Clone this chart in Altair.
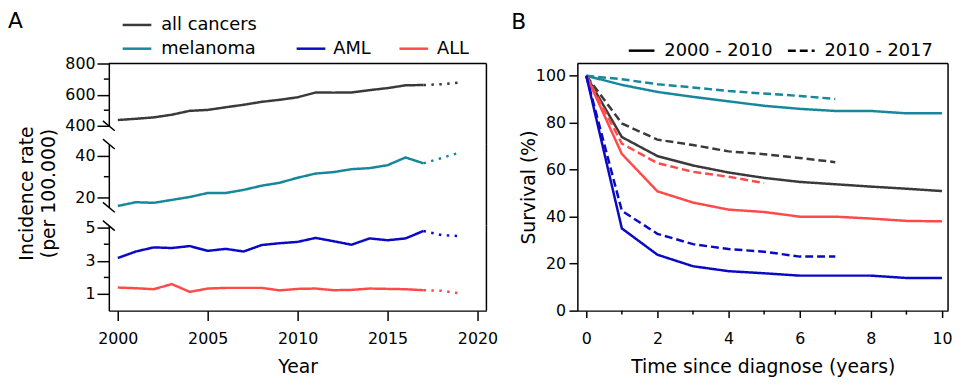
import altair as alt
import pandas as pd

# ---------------- Panel A: incidence rates ----------------
years = list(range(2000, 2018))
proj_years = [2017, 2018, 2019]
inc_all = [437, 445, 454, 471, 496, 502, 519, 535, 554, 567, 583, 614, 613, 614, 629, 642, 660, 662]
proj_all = [662, 667, 677]
inc_mel = [16.0, 17.8, 17.5, 18.9, 20.3, 22.2, 22.2, 23.7, 25.7, 27.1, 29.5, 31.5, 32.2, 33.6, 34.1, 35.5, 39.2, 36.4]
proj_mel = [36.4, 38.9, 41.5]
inc_aml = [3.17, 3.56, 3.81, 3.77, 3.89, 3.60, 3.72, 3.56, 3.95, 4.06, 4.14, 4.38, 4.18, 3.97, 4.35, 4.24, 4.35, 4.80]
proj_aml = [4.80, 4.55, 4.49]
inc_lymph = [1.39, 1.35, 1.29, 1.60, 1.13, 1.33, 1.37, 1.37, 1.37, 1.22, 1.31, 1.33, 1.23, 1.25, 1.33, 1.31, 1.29, 1.23]
proj_lymph = [1.23, 1.20, 1.04]

cancers = ["all cancers", "melanoma", "AML", "ALL"]
colors = ["#3a3a3a", "#17879b", "#0a0ac4", "#ff4a4a"]

# ---------------- Panel B: survival ----------------
t_early = list(range(0, 11))
t_late = list(range(0, 8))
t_late_lymph = list(range(0, 6))
surv_all_early = [100, 73.9, 65.8, 61.8, 58.8, 56.5, 54.8, 53.8, 52.8, 51.9, 50.9]
surv_all_late = [100, 79.7, 72.8, 70.5, 67.8, 66.6, 65.0, 63.2]
surv_mel_early = [100, 96.1, 93.1, 91.0, 89.1, 87.2, 85.9, 85.0, 85.0, 84.0, 84.0]
surv_mel_late = [100, 98.5, 96.4, 95.0, 93.5, 92.4, 91.4, 90.1]
surv_aml_early = [100, 35.0, 23.8, 18.9, 16.8, 15.9, 14.9, 14.9, 14.9, 13.9, 13.9]
surv_aml_late = [100, 42.5, 32.7, 28.3, 26.2, 25.1, 23.0, 23.0]
surv_lymph_early = [100, 66.7, 50.8, 46.0, 43.0, 42.0, 40.0, 40.0, 39.2, 38.2, 38.0]
surv_lymph_late = [100, 71.1, 62.8, 59.1, 57.0, 54.3]
periods = ["2000 - 2010", "2010 - 2017"]
y_title_a = ["Incidence rate", "(per 100.000)"]

FONT = "DejaVu Sans"
one = pd.DataFrame({"k": [0]})
color_scale = alt.Scale(domain=cancers, range=colors)


def inc_df(name, obs, proj):
    rows = [{"year": y, "value": v, "cancer": name, "seg": "observed"} for y, v in zip(years, obs)]
    rows += [{"year": y, "value": v, "cancer": name, "seg": "projected"} for y, v in zip(proj_years, proj)]
    return pd.DataFrame(rows)


def rule(color="black", width=1.5, dash=None, **enc):
    kw = dict(color=color, strokeWidth=width)
    if dash is not None:
        kw["strokeDash"] = dash
    return alt.Chart(one).mark_rule(**kw).encode(**{k: alt.value(v) for k, v in enc.items()})


def label(txt, x, y, size=18, baseline="middle", align="left", angle=0):
    kw = dict(align=align, baseline=baseline, fontSize=size, font=FONT, color="black")
    if angle:
        kw["angle"] = angle
    return alt.Chart(one).mark_text(**kw).encode(x=alt.value(x), y=alt.value(y), text=alt.value(txt))


W_A = 382
GAP = 18.5


def sub_panel(df, domain, h, major, minor, bottom=False, top=False, extra=None):
    if bottom:
        xaxis = alt.Axis(values=[2000, 2005, 2010, 2015, 2020], format="d", tickSize=10,
                         labelPadding=10, title="Year", titlePadding=12)
    else:
        xaxis = None
    xscale = alt.Scale(domain=[1999.5, 2020.5], nice=False, zero=False)
    yscale = alt.Scale(domain=domain, nice=False, zero=False)
    yaxis = alt.Axis(values=major, tickSize=12, labelPadding=2, title=None)
    lines = alt.Chart(df).mark_line(strokeWidth=2.5).encode(
        x=alt.X("year:Q", scale=xscale, axis=xaxis),
        y=alt.Y("value:Q", scale=yscale, axis=yaxis),
        color=alt.Color("cancer:N", scale=color_scale, legend=None),
        strokeDash=alt.StrokeDash("seg:N", scale=alt.Scale(domain=["observed", "projected"],
                                                           range=[[1, 0], [2.5, 5.5]]), legend=None),
    )
    ticks = alt.Chart(pd.DataFrame({"value": minor})).mark_rule(color="black", strokeWidth=1.5).encode(
        y=alt.Y("value:Q", scale=yscale, axis=yaxis), x=alt.value(-5), x2=alt.value(0))
    layers = [lines, ticks]
    # right frame border (continues through the gap below)
    layers.append(rule(x=W_A, y=0, y2=h + (0 if bottom else GAP)))
    if top:
        layers.append(rule(x=0, x2=W_A, y=0))
    # axis break marks
    if not top:
        layers.append(rule(x=-6, x2=6, y=-5, y2=5))
    if not bottom:
        layers.append(rule(x=-6, x2=6, y=h - 5, y2=h + 5))
    if extra:
        layers += extra
    return alt.layer(*layers).properties(width=W_A, height=h)


legend_A = [
    label("A", -102, -36, size=22, baseline="alphabetic"),
    rule(color=colors[0], width=2.5, x=14, x2=43, y=-39), label(cancers[0], 53, -39),
    rule(color=colors[1], width=2.5, x=14, x2=43, y=-15), label(cancers[1], 53, -15),
    rule(color=colors[2], width=2.5, x=190, x2=219, y=-15), label(cancers[2], 227, -15),
    rule(color=colors[3], width=2.5, x=294, x2=323, y=-15), label(cancers[3], 332, -15),
]
title_A = [
    label(y_title_a[0], -83, 50, size=19, align="center", angle=270),
    label(y_title_a[1], -60, 50, size=19, align="center", angle=270),
]

p_top = sub_panel(inc_df(cancers[0], inc_all, proj_all), [400, 800], 63, [400, 600, 800], [500, 700],
                  top=True, extra=legend_A)
p_mid = sub_panel(inc_df(cancers[1], inc_mel, proj_mel), [15.35, 45.6], 64, [20, 40], [30], extra=title_A)
p_bot = sub_panel(pd.concat([inc_df(cancers[2], inc_aml, proj_aml), inc_df(cancers[3], inc_lymph, proj_lymph)]),
                  [0, 5.12], 86, [1, 3, 5], [2, 4], bottom=True)

panel_a = alt.vconcat(p_top, p_mid, p_bot, spacing=GAP, bounds="flush").resolve_scale(
    x="independent", y="independent")

# ---------------- Panel B chart ----------------
W_B, H_B = 375, 250
rows = []
for name, tt, vals, per in [
    (cancers[1], t_early, surv_mel_early, periods[0]), (cancers[1], t_late, surv_mel_late, periods[1]),
    (cancers[0], t_early, surv_all_early, periods[0]), (cancers[0], t_late, surv_all_late, periods[1]),
    (cancers[3], t_early, surv_lymph_early, periods[0]), (cancers[3], t_late_lymph, surv_lymph_late, periods[1]),
    (cancers[2], t_early, surv_aml_early, periods[0]), (cancers[2], t_late, surv_aml_late, periods[1]),
]:
    rows += [{"time": t, "surv": v, "cancer": name, "period": per} for t, v in zip(tt, vals)]
dfB = pd.DataFrame(rows)

xB = alt.Scale(domain=[-0.25, 10.17], nice=False, zero=False)
yB = alt.Scale(domain=[0, 105.2], nice=False, zero=False)
xB_axis = alt.Axis(values=[0, 2, 4, 6, 8, 10], tickSize=7, labelPadding=13,
                   title="Time since diagnose (years)", titlePadding=12)
linesB = alt.Chart(dfB).mark_line(strokeWidth=2.5).encode(
    x=alt.X("time:Q", scale=xB, axis=xB_axis),
    y=alt.Y("surv:Q", scale=yB, axis=alt.Axis(values=[0, 20, 40, 60, 80, 100], tickSize=8.5, labelPadding=3.5,
                                              title="Survival (%)", titleX=-49, titleY=H_B / 2,
                                              titleAngle=270, titleAlign="center", titleBaseline="middle")),
    color=alt.Color("cancer:N", scale=color_scale, legend=None),
    strokeDash=alt.StrokeDash("period:N", scale=alt.Scale(domain=periods, range=[[1, 0], [8, 4]]), legend=None),
)
minorB = alt.Chart(pd.DataFrame({"time": [1, 3, 5, 7, 9]})).mark_rule(color="black", strokeWidth=1.5).encode(
    x=alt.X("time:Q", scale=xB, axis=xB_axis), y=alt.value(H_B), y2=alt.value(H_B + 4))
panel_b = alt.layer(
    linesB, minorB,
    rule(x=0, x2=W_B, y=0), rule(x=W_B, y=0, y2=H_B),
    label("B", -67, -35, size=22, baseline="alphabetic"),
    rule(width=2.5, x=52, x2=78, y=-13), label(periods[0], 88, -13),
    rule(width=2.5, dash=[8, 4], x=213, x2=240, y=-13), label(periods[1], 250, -13),
).properties(width=W_B, height=H_B)

chart = alt.hconcat(panel_a, panel_b, spacing=13).resolve_scale(
    x="independent", y="independent", strokeDash="independent"
).properties(
    padding={"left": 0, "top": 0, "right": 0, "bottom": 0}
).configure_view(stroke=None).configure_axis(
    labelFont=FONT, titleFont=FONT, labelFontSize=16, titleFontSize=19, titleFontWeight="normal",
    labelColor="black", titleColor="black", domainColor="black", tickColor="black",
    domainWidth=1.5, tickWidth=1.5, grid=False,
)

chart.save("out.html", embed_options={"renderer": "svg", "actions": False})
